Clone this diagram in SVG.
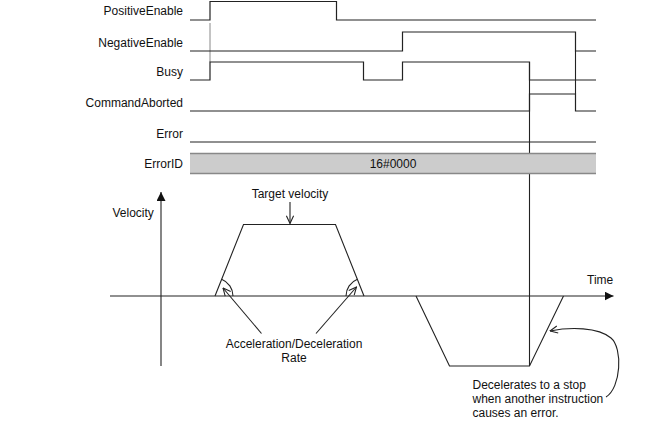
<svg xmlns="http://www.w3.org/2000/svg" width="661" height="445" viewBox="0 0 661 445">
<style>
text{font-family:"Liberation Sans",Arial,sans-serif;font-size:12px;fill:#111}
.lbl{text-anchor:end}
.sig{fill:none;stroke:#222;stroke-width:1.2}
.gr{fill:none;stroke:#888;stroke-width:1}
.ln{fill:none;stroke:#222;stroke-width:1.1}
</style>
<defs>
<marker id="open" viewBox="0 0 10 10" refX="9.5" refY="5" markerWidth="9" markerHeight="9" markerUnits="userSpaceOnUse" orient="auto">
<path d="M1,1 L9.5,5 L1,9" fill="none" stroke="#222" stroke-width="1.2"/>
</marker>
<marker id="solid" viewBox="0 0 10 10" refX="10" refY="5" markerWidth="9" markerHeight="9" markerUnits="userSpaceOnUse" orient="auto">
<path d="M0,0 L10,5 L0,10 Z" fill="#111"/>
</marker>
</defs>
<rect width="661" height="445" fill="#fff"/>
<g id="labels">
<text class="lbl" x="183" y="15">PositiveEnable</text>
<text class="lbl" x="183" y="47">NegativeEnable</text>
<text class="lbl" x="183" y="76">Busy</text>
<text class="lbl" x="183" y="107">CommandAborted</text>
<text class="lbl" x="183" y="138">Error</text>
<text class="lbl" x="183" y="168">ErrorID</text>
</g>
<g id="connectors">
<line class="ln" x1="529.5" y1="62" x2="529.5" y2="366"/>
<line class="ln" x1="575.5" y1="51" x2="575.5" y2="94"/>
<line class="gr" x1="210" y1="23" x2="210" y2="62"/>
</g>
<g id="PositiveEnable">
<polyline class="sig" points="190,20 210,20 210,1.5 336.5,1.5 336.5,20 596,20"/>
</g>
<g id="NegativeEnable">
<polyline class="sig" points="190,51 402.5,51 402.5,32 575.5,32 575.5,51 596,51"/>
</g>
<g id="Busy">
<polyline class="sig" points="190,80 210,80 210,62 363.5,62 363.5,80 402.5,80 402.5,62 529.5,62 529.5,80 596,80"/>
</g>
<g id="CommandAborted">
<polyline class="sig" points="190,111 529.5,111 529.5,94 575.5,94 575.5,111 596,111"/>
</g>
<g id="Error">
<line class="sig" x1="190" y1="142" x2="596" y2="142"/>
</g>
<g id="ErrorID">
<rect x="190" y="153.5" width="406" height="20" fill="#cccccc"/>
<line x1="190" y1="153.5" x2="596" y2="153.5" stroke="#888" stroke-width="1.5"/>
<line x1="190" y1="173.5" x2="596" y2="173.5" stroke="#888" stroke-width="1.5"/>
<text x="393" y="167.5" text-anchor="middle" font-size="11">16#0000</text>
</g>
<g id="axes">
<line class="ln" x1="161" y1="366" x2="161" y2="192" marker-end="url(#solid)"/>
<line class="ln" x1="110" y1="296" x2="613.5" y2="296" marker-end="url(#solid)"/>
<text x="112.5" y="217">Velocity</text>
<text x="587" y="283.5">Time</text>
</g>
<g id="positive-profile">
<polyline class="ln" points="215,296 243.5,224.5 335.5,224.5 364,296"/>
<path class="ln" d="M233,296 A18,18 0 0 0 221.6,279.3"/>
<path class="ln" d="M346,296 A18,18 0 0 1 357.4,279.3"/>
<text x="290" y="198" text-anchor="middle">Target velocity</text>
<line class="ln" x1="290" y1="202" x2="290" y2="223.5" marker-end="url(#open)"/>
<line class="ln" x1="261.5" y1="333.5" x2="223" y2="288" marker-end="url(#open)"/>
<line class="ln" x1="316" y1="333.5" x2="356.5" y2="287" marker-end="url(#open)"/>
<text x="294" y="347.5" text-anchor="middle">Acceleration/Deceleration</text>
<text x="294" y="361.5" text-anchor="middle">Rate</text>
</g>
<g id="negative-profile">
<polyline class="ln" points="416,296 449.5,366 529.5,366 563.5,296"/>
<path class="ln" d="M606,397 C621,388 623,348 611,338 C598,327 570,327 550,331" marker-end="url(#open)"/>
<text x="472.5" y="388.5">Decelerates to a stop</text>
<text x="472.5" y="402.5">when another instruction</text>
<text x="472.5" y="416.5">causes an error.</text>
</g>
</svg>
